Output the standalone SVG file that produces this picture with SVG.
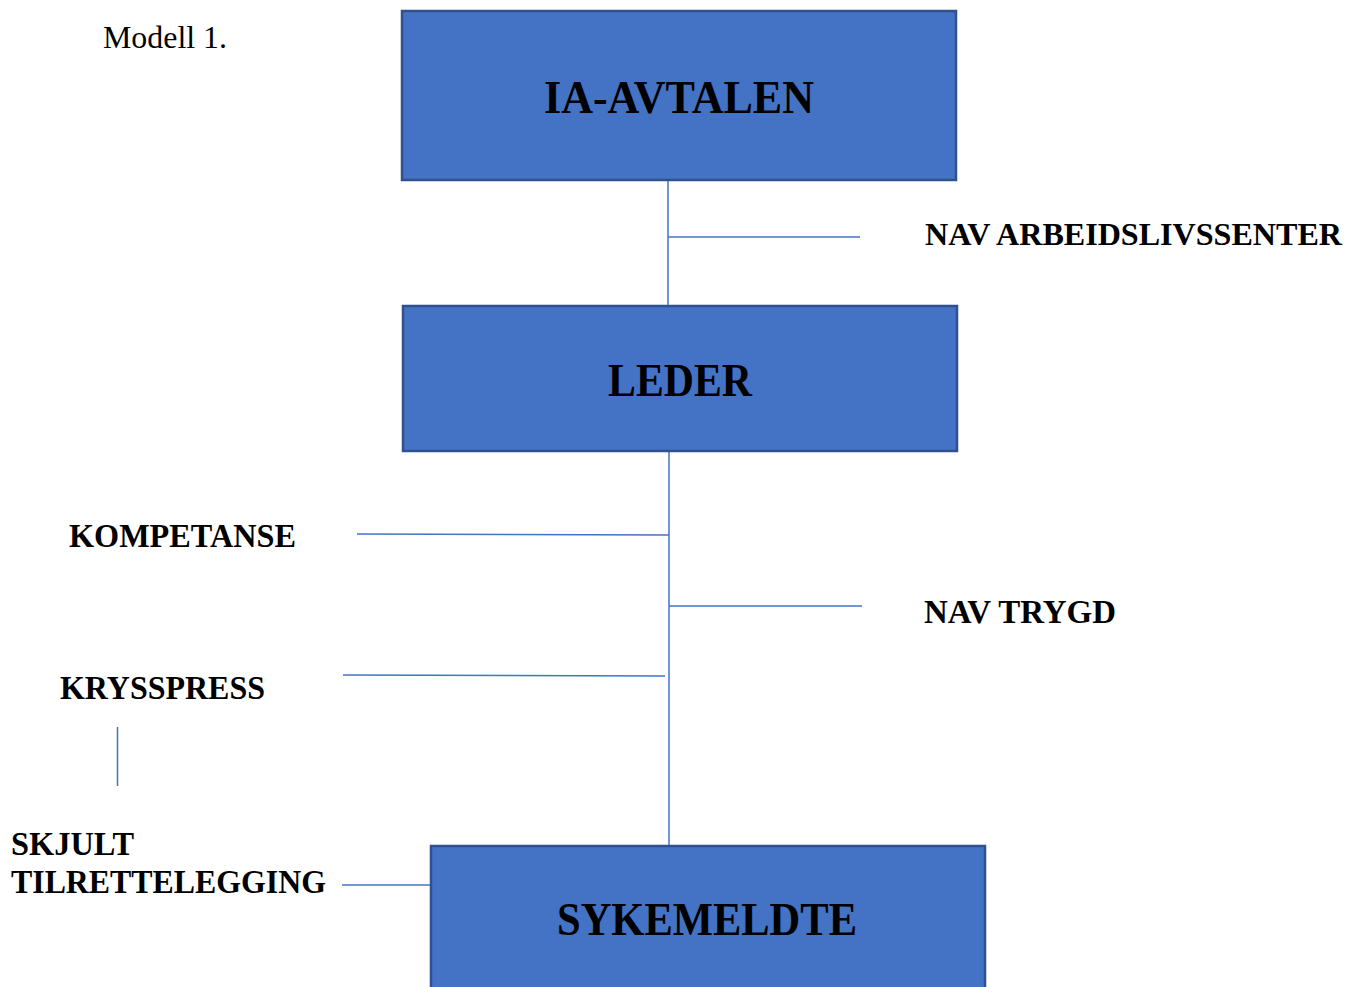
<svg xmlns="http://www.w3.org/2000/svg" width="1349" height="987" viewBox="0 0 1349 987">
<style>
.box{fill:#4472C4;stroke:#2F528F;stroke-width:2.5}
.t{font-family:"Liberation Serif","Times New Roman",serif;font-weight:bold;fill:#000}
.big{font-size:46px}
.lab{font-size:34px}
.ln{stroke:#4472C4;stroke-width:1.5;fill:none}
</style>
<rect width="1349" height="987" fill="#fff"/>
<text x="103" y="48" font-family="Liberation Serif, serif" font-size="31" textLength="124" lengthAdjust="spacingAndGlyphs">Modell 1.</text>
<g id="connectors">
<line class="ln" x1="668" y1="180" x2="668" y2="306"/>
<line class="ln" x1="668" y1="237" x2="860" y2="237"/>
<line class="ln" x1="669" y1="451" x2="669" y2="846"/>
<line class="ln" x1="357" y1="534" x2="669" y2="535"/>
<line class="ln" x1="669" y1="606" x2="862" y2="606"/>
<line class="ln" x1="343" y1="675" x2="665" y2="676"/>
<line class="ln" x1="117.5" y1="727" x2="117.5" y2="786"/>
<line class="ln" x1="342" y1="885" x2="431" y2="885"/>
</g>
<g id="ia-avtalen">
<rect class="box" x="402" y="11" width="554" height="169"/>
<text class="t big" x="544" y="113" textLength="270" lengthAdjust="spacingAndGlyphs">IA-AVTALEN</text>
</g>
<g id="leder">
<rect class="box" x="403" y="306" width="554" height="145"/>
<text class="t big" x="608" y="396" textLength="144" lengthAdjust="spacingAndGlyphs">LEDER</text>
</g>
<g id="sykemeldte">
<rect class="box" x="431" y="846" width="554" height="150"/>
<text class="t big" x="557" y="935" textLength="300" lengthAdjust="spacingAndGlyphs">SYKEMELDTE</text>
</g>
<g id="nav-arbeidslivssenter">
<text class="t" font-size="32" x="925" y="245" textLength="417" lengthAdjust="spacingAndGlyphs">NAV ARBEIDSLIVSSENTER</text>
</g>
<g id="kompetanse">
<text class="t lab" x="69" y="547" textLength="227" lengthAdjust="spacingAndGlyphs">KOMPETANSE</text>
</g>
<g id="nav-trygd">
<text class="t lab" x="924" y="623" textLength="192" lengthAdjust="spacingAndGlyphs">NAV TRYGD</text>
</g>
<g id="krysspress">
<text class="t lab" x="60" y="699" textLength="205" lengthAdjust="spacingAndGlyphs">KRYSSPRESS</text>
</g>
<g id="skjult-tilrettelegging">
<text class="t lab" x="11" y="855" textLength="123" lengthAdjust="spacingAndGlyphs">SKJULT</text>
<text class="t lab" x="11" y="893" textLength="315" lengthAdjust="spacingAndGlyphs">TILRETTELEGGING</text>
</g>
</svg>
